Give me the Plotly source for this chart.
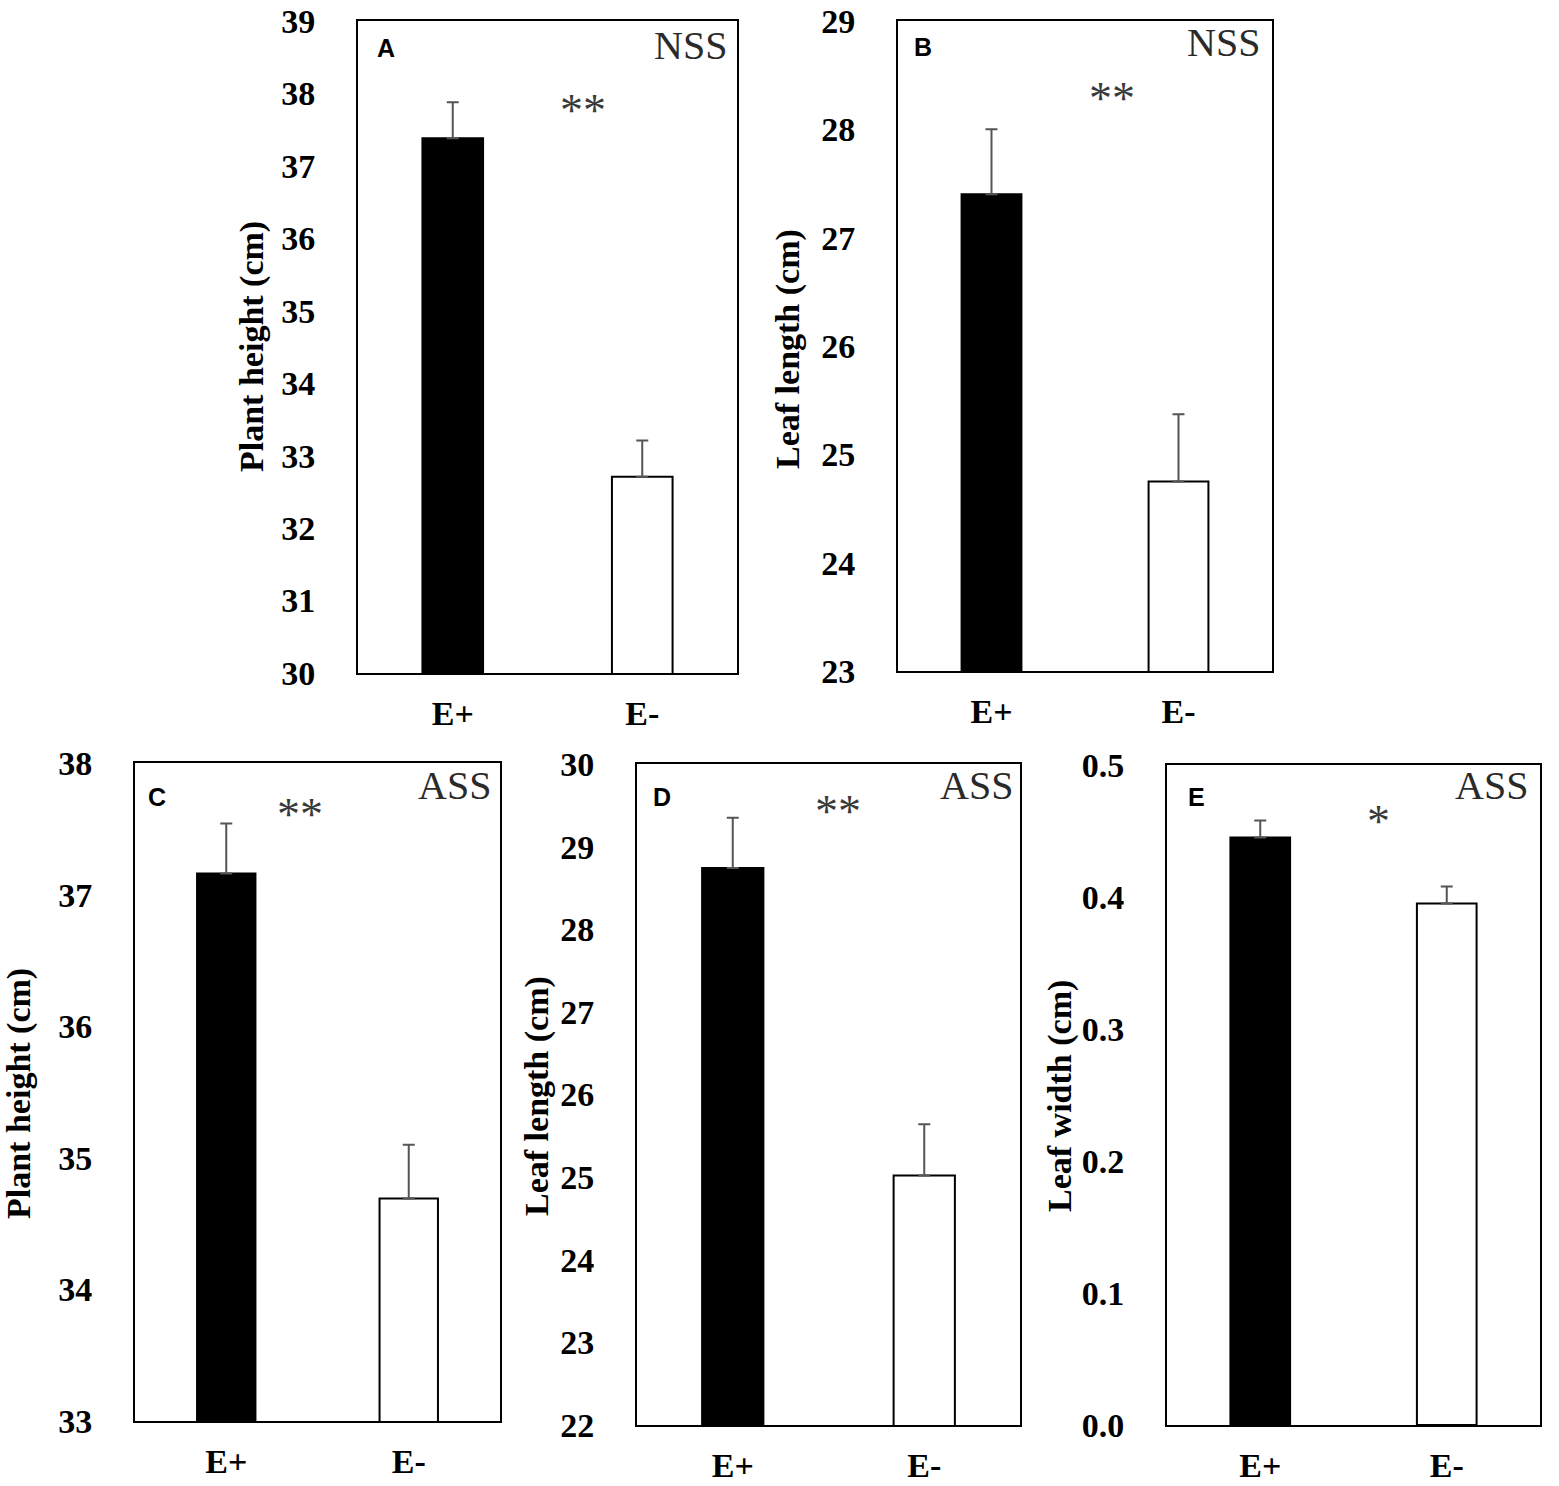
import plotly.graph_objects as go

W, H = 1559, 1486

categories = ["E+", "E-"]

# Panel values (mean, upper standard error)
a_means = [37.38, 32.71]
a_err = [0.50, 0.50]
b_means = [27.40, 24.75]
b_err = [0.60, 0.62]
c_means = [37.16, 34.69]
c_err = [0.38, 0.41]
d_means = [28.74, 25.02]
d_err = [0.61, 0.62]
e_means = [0.445, 0.395]
e_err = [0.013, 0.013]

panel_letters = ["A", "B", "C", "D", "E"]
stress_labels = ["NSS", "NSS", "ASS", "ASS", "ASS"]
sig_labels = ["**", "**", "**", "**", "*"]
y_titles = ["Plant height (cm)", "Leaf length (cm)", "Plant height (cm)",
            "Leaf length (cm)", "Leaf width (cm)"]
y_ranges = [(30, 39), (23, 29), (33, 38), (22, 30), (0.0, 0.5)]
y_dticks = [1, 1, 1, 1, 0.1]
y_formats = ["d", "d", "d", "d", ".1f"]

means = [a_means, b_means, c_means, d_means, e_means]
errs = [a_err, b_err, c_err, d_err, e_err]

# layout geometry in pixels (left, right, top, bottom) of each plot box
boxes = [(358, 737, 21, 673), (898, 1272, 21, 671), (135, 500, 763, 1421),
         (637, 1020, 764, 1425), (1167, 1540, 765, 1425)]
title_pos = [(252, 347), (788, 349), (19, 1094), (537, 1096), (1060, 1096)]
letter_pos = [(386, 48), (923, 47), (157, 797), (662, 797), (1196, 797)]
stress_pos = [(729, 45), (1262, 43), (493, 785), (1015, 785), (1530, 785)]
sig_pos = [(583, 110), (1112, 98), (300, 814), (838, 811), (1378, 822)]

def fx(px):
    return px / W

def fy(py):
    return 1 - py / H

serif = "Liberation Serif"
sans = "Liberation Sans"

fig = go.Figure()
annotations = []
for i in range(5):
    n = "" if i == 0 else str(i + 1)
    xa = "x" + n
    ya = "y" + n
    fig.add_trace(go.Bar(
        x=categories, y=means[i], xaxis=xa, yaxis=ya, width=0.32,
        marker=dict(color=["black", "white"], line=dict(color="black", width=2)),
        error_y=dict(type="data", symmetric=False, array=errs[i],
                     arrayminus=[0, 0], color="#555555", thickness=2, width=6),
        showlegend=False,
    ))
    l, r, t, b = boxes[i]
    fig.layout["xaxis" + n] = dict(
        domain=[fx(l), fx(r)], anchor=ya, range=[-0.5, 1.5], automargin=False,
        showline=True, mirror=True, linecolor="black", linewidth=2,
        ticks="", showgrid=False, zeroline=False,
        tickfont=dict(family=serif, size=34, color="black", weight="bold"),
        ticklabelstandoff=9,
    )
    fig.layout["yaxis" + n] = dict(
        domain=[fy(b), fy(t)], anchor=xa, range=list(y_ranges[i]), automargin=False,
        dtick=y_dticks[i], tick0=y_ranges[i][0], tickformat=y_formats[i],
        showline=True, mirror=True, linecolor="black", linewidth=2,
        ticks="", showgrid=False, zeroline=False,
        tickfont=dict(family=serif, size=34, color="black", weight="bold"),
        ticklabelstandoff=34,
    )
    tx, ty = title_pos[i]
    annotations.append(dict(
        text=y_titles[i], x=fx(tx), y=fy(ty), xref="paper", yref="paper",
        xanchor="center", yanchor="middle", textangle=-90, showarrow=False,
        font=dict(family=serif, size=34, color="black", weight="bold")))
    lx, ly = letter_pos[i]
    annotations.append(dict(
        text=panel_letters[i], x=fx(lx), y=fy(ly), xref="paper", yref="paper",
        xanchor="center", yanchor="middle", showarrow=False,
        font=dict(family=sans, size=25, color="black", weight="bold")))
    sx, sy = stress_pos[i]
    annotations.append(dict(
        text=stress_labels[i], x=fx(sx), y=fy(sy), xref="paper", yref="paper",
        xanchor="right", yanchor="middle", showarrow=False,
        font=dict(family=serif, size=40, color="#2a2a2a")))
    gx, gy = sig_pos[i]
    annotations.append(dict(
        text=sig_labels[i], x=fx(gx), y=fy(gy), xref="paper", yref="paper",
        xanchor="center", yanchor="middle", showarrow=False,
        font=dict(family=serif, size=46, color="#3a3a3a")))

fig.update_layout(
    width=W, height=H, margin=dict(l=0, r=0, t=0, b=0, autoexpand=False),
    paper_bgcolor="white", plot_bgcolor="white",
    annotations=annotations, bargap=0.5,
)

fig.write_html("out.html", config={"displayModeBar": False},
               post_script="document.body.style.margin='0';")
